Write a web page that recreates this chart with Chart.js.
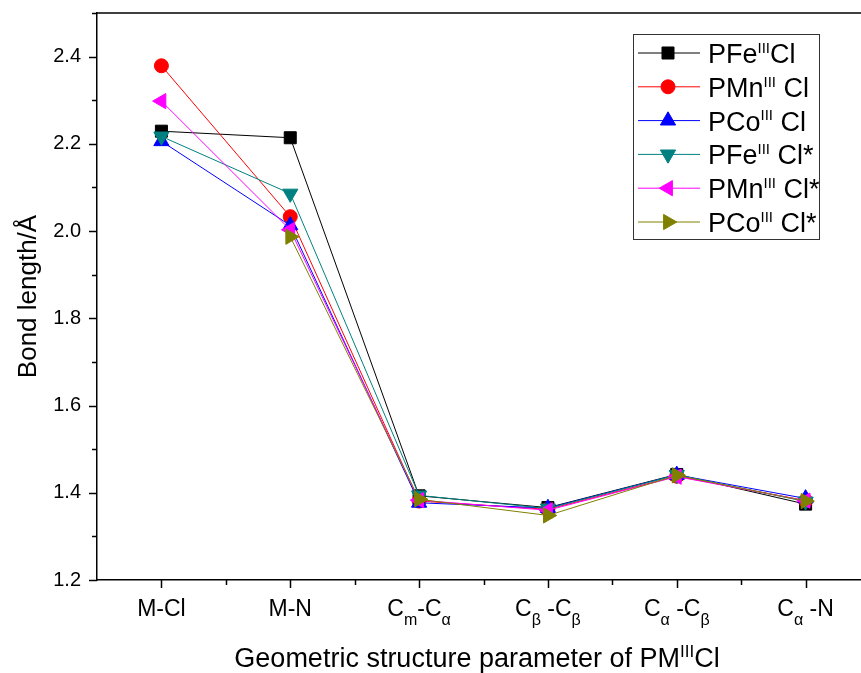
<!DOCTYPE html>
<html>
<head>
<meta charset="utf-8">
<script src="https://cdn.jsdelivr.net/npm/chart.js"></script>
<style>
  html, body { margin: 0; padding: 0; background: #fff; overflow: hidden; }
  #wrap { width: 861px; height: 673px; position: relative; }
</style>
</head>
<body>
<div id="wrap"><canvas id="c" width="861" height="673"></canvas></div>
<script>
// ---------- DATA ----------
const categories = ['M-Cl', 'M-N', 'Cm-Cα', 'Cβ -Cβ', 'Cα -Cβ', 'Cα -N'];
// label pieces: [text, 'n' normal | 's' subscript]
const categoryParts = [
  [['M-Cl', 'n']],
  [['M-N', 'n']],
  [['C', 'n'], ['m', 's'], ['-C', 'n'], ['α', 's']],
  [['C', 'n'], ['β', 's'], [' -C', 'n'], ['β', 's']],
  [['C', 'n'], ['α', 's'], [' -C', 'n'], ['β', 's']],
  [['C', 'n'], ['α', 's'], [' -N', 'n']]
];
const seriesNames = ['PFeIIICl', 'PMnIIICl', 'PCoIIICl', 'PFeIIICl*', 'PMnIIICl*', 'PCoIIICl*'];
const seriesLabelParts = [
  ['PFe', 'III', 'Cl'],
  ['PMn', 'III', ' Cl'],
  ['PCo', 'III', ' Cl'],
  ['PFe', 'III', ' Cl*'],
  ['PMn', 'III', ' Cl*'],
  ['PCo', 'III', ' Cl*']
];
const pFeCl     = [2.229, 2.214, 1.393, 1.366, 1.442, 1.374];
const pMnCl     = [2.379, 2.033, 1.381, 1.362, 1.438, 1.382];
const pCoCl     = [2.206, 2.013, 1.377, 1.365, 1.441, 1.387];
const pFeClStar = [2.217, 2.086, 1.394, 1.364, 1.441, 1.380];
const pMnClStar = [2.298, 2.003, 1.383, 1.360, 1.437, 1.382];
const pCoClStar = [null,  1.987, 1.385, 1.348, 1.440, 1.381];
const yTickLabels = ['1.2', '1.4', '1.6', '1.8', '2.0', '2.2', '2.4'];
const xTitle = ['Geometric structure parameter of PM', 'III', 'Cl'];
const yTitle = 'Bond length/Å';

// ---------- STYLES ----------
const seriesValues = [pFeCl, pMnCl, pCoCl, pFeClStar, pMnClStar, pCoClStar];
const seriesColors = ['#000000', '#FF0000', '#0000FF', '#008080', '#FF00FF', '#808000'];
const seriesStyles = [
  { pointStyle: 'rect', rotation: 0, radius: 8.5 },
  { pointStyle: 'circle', rotation: 0, radius: 7 },
  { pointStyle: 'triangle', rotation: 0, radius: 8.8 },
  { pointStyle: 'triangle', rotation: 180, radius: 8.8 },
  { pointStyle: 'triangle', rotation: 270, radius: 8.8 },
  { pointStyle: 'triangle', rotation: 90, radius: 8.8 }
];
const FONT = '"Liberation Sans", Arial, sans-serif';

const datasets = seriesValues.map((vals, s) => ({
  label: seriesNames[s],
  data: vals.map((v, i) => ({ x: i + 1, y: v })),
  borderColor: seriesColors[s],
  backgroundColor: seriesColors[s],
  borderWidth: 1,
  pointStyle: seriesStyles[s].pointStyle,
  rotation: seriesStyles[s].rotation,
  pointRadius: seriesStyles[s].radius,
  pointHoverRadius: seriesStyles[s].radius,
  pointBorderWidth: 1,
  pointBackgroundColor: seriesColors[s],
  pointBorderColor: seriesColors[s],
  tension: 0,
  spanGaps: false,
  order: seriesValues.length - 1 - s
}));

function drawMarker(ctx, style, color, x, y) {
  ctx.save();
  ctx.fillStyle = color;
  ctx.strokeStyle = color;
  ctx.lineWidth = 1;
  if (Chart.helpers && Chart.helpers.drawPoint) {
    Chart.helpers.drawPoint(ctx, { pointStyle: style.pointStyle, rotation: style.rotation, radius: style.radius, borderWidth: 1 }, x, y);
  }
  ctx.restore();
}

function drawParts(ctx, parts, x, y, size, align, subRatio, subDrop) {
  // parts: [text, kind]; kind 'n' normal, 's' subscript, 'p' superscript
  const subSize = Math.round(size * (subRatio || 0.62));
  let total = 0;
  const widths = parts.map(([t, k]) => {
    ctx.font = (k === 'n' ? size : subSize) + 'px ' + FONT;
    const w = ctx.measureText(t).width;
    total += w;
    return w;
  });
  let cx = align === 'center' ? x - total / 2 : x;
  ctx.textAlign = 'left';
  ctx.textBaseline = 'alphabetic';
  parts.forEach(([t, k], i) => {
    ctx.font = (k === 'n' ? size : subSize) + 'px ' + FONT;
    let dy = 0;
    if (k === 's') dy = size * (subDrop || 0.3);
    if (k === 'p') dy = -size * 0.38;
    ctx.fillText(t, cx, y + dy);
    cx += widths[i];
  });
}

const decor = {
  id: 'decor',
  afterDraw(chart) {
    const ctx = chart.ctx;
    const ca = chart.chartArea;
    const xs = chart.scales.x, ys = chart.scales.y;
    ctx.save();
    ctx.strokeStyle = '#000';
    ctx.fillStyle = '#000';
    ctx.lineWidth = 1.5;
    // top frame line
    ctx.beginPath();
    ctx.moveTo(ca.left, ca.top);
    ctx.lineTo(ca.right, ca.top);
    ctx.stroke();
    // y ticks
    for (let k = 0; k <= 13; k++) {
      const v = 1.2 + k * 0.1;
      const py = Math.round(ys.getPixelForValue(v)) + 0.5;
      const len = k % 2 === 0 ? 8 : 5;
      ctx.beginPath();
      ctx.moveTo(ca.left - len, py);
      ctx.lineTo(ca.left, py);
      ctx.stroke();
    }
    // x ticks
    for (let k = 2; k <= 13; k++) {
      const v = k * 0.5;
      if (v > xs.max) break;
      const px = Math.round(xs.getPixelForValue(v)) + 0.5;
      const len = k % 2 === 0 ? 8 : 5;
      ctx.beginPath();
      ctx.moveTo(px, ca.bottom);
      ctx.lineTo(px, ca.bottom + len);
      ctx.stroke();
    }
    // y tick labels
    ctx.font = '20px ' + FONT;
    ctx.textAlign = 'right';
    ctx.textBaseline = 'middle';
    yTickLabels.forEach(t => {
      ctx.fillText(t, ca.left - 16, ys.getPixelForValue(parseFloat(t)));
    });
    // x tick labels
    categoryParts.forEach((parts, i) => {
      drawParts(ctx, parts, xs.getPixelForValue(i + 1), 616, 23, 'center', 0.7, 0.4);
    });
    // x title
    const tp = [[xTitle[0], 'n'], [xTitle[1], 'p'], [xTitle[2], 'n']];
    drawParts(ctx, tp, 477, 667, 27, 'center');
    // y title
    ctx.save();
    ctx.translate(36, (ca.top + ca.bottom) / 2);
    ctx.rotate(-Math.PI / 2);
    ctx.font = '26px ' + FONT;
    ctx.textAlign = 'center';
    ctx.textBaseline = 'alphabetic';
    ctx.fillText(yTitle, 0, 0);
    ctx.restore();
    // legend
    const lx = 633, ly = 34, lw = 186, lh = 205;
    ctx.lineWidth = 1;
    ctx.strokeStyle = '#333';
    ctx.strokeRect(lx + 0.5, ly + 0.5, lw, lh);
    seriesNames.forEach((n, s) => {
      const ry = 53 + s * 33.8;
      ctx.strokeStyle = seriesColors[s];
      ctx.lineWidth = 1;
      ctx.beginPath();
      ctx.moveTo(638, ry);
      ctx.lineTo(700, ry);
      ctx.stroke();
      drawMarker(ctx, seriesStyles[s], seriesColors[s], 668, ry);
      ctx.fillStyle = '#000';
      const lp = seriesLabelParts[s];
      drawParts(ctx, [[lp[0], 'n'], [lp[1], 'p'], [lp[2], 'n']], 708, ry + 10, 27, 'left', 0.55);
    });
    ctx.restore();
  }
};

new Chart(document.getElementById('c'), {
  type: 'line',
  data: { datasets },
  options: {
    responsive: false,
    animation: false,
    devicePixelRatio: 1,
    layout: { autoPadding: false, padding: { left: 0, top: 13, right: 0, bottom: 0 } },
    plugins: { legend: { display: false }, tooltip: { enabled: false } },
    scales: {
      x: {
        type: 'linear',
        min: 0.5,
        max: 6.43,
        ticks: { display: false },
        grid: { display: false },
        border: { display: true, color: '#000', width: 1.5 },
        afterFit(scale) { scale.height = 93; }
      },
      y: {
        type: 'linear',
        min: 1.2,
        max: 2.5,
        ticks: { display: false },
        grid: { display: false },
        border: { display: true, color: '#000', width: 1.5 },
        afterFit(scale) { scale.width = 97; }
      }
    }
  },
  plugins: [decor]
});
</script>
</body>
</html>
